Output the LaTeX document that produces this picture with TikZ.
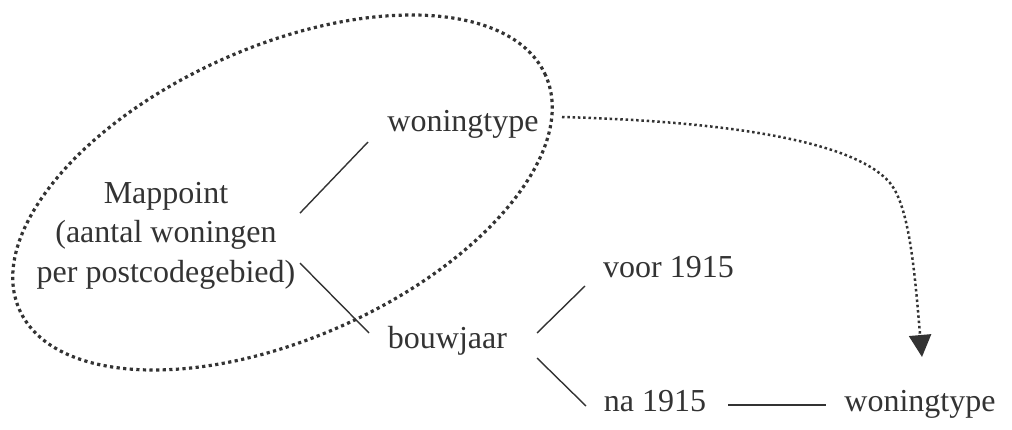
\documentclass[tikz,border=0pt]{standalone}
\usepackage{fontspec}
\setmainfont{Liberation Serif}
\usetikzlibrary{calc,arrows.meta}
\definecolor{ink}{HTML}{333333}
\tikzset{
  lbl/.style={inner sep=0pt, anchor=base, text=ink, font=\fontsize{32}{39.5}\selectfont},
  conn/.style={draw=ink, line width=1.4pt},
  dotring/.style={draw=ink, line width=3.2pt, dash pattern=on 3.2pt off 3.4pt},
  dotarrow/.style={draw=ink, line width=2.5pt, dash pattern=on 2.5pt off 2.8pt,
     -{Triangle[width=22pt,length=22pt]}}
}
\begin{document}
\begin{tikzpicture}[x=1pt,y=1pt]
\useasboundingbox (0,0) rectangle (1012,429);
% group ellipse
\draw[dotring, rotate around={24:(282.5,236.5)}] (282.5,236.5) ellipse [x radius=288, y radius=146];
% nodes
\node[lbl, anchor=north, align=center] (map) at (166,246.9)
  {Mappoint\\(aantal woningen\\per postcodegebied)};
\node[lbl] (wt1) at (463,297) {woningtype};
\node[lbl] (bouw) at (447.5,81) {bouwjaar};
\node[lbl] (voor) at (668.5,152) {voor 1915};
\node[lbl] (na) at (655,18) {na 1915};
\node[lbl] (wt2) at (920,18) {woningtype};
\coordinate (tip) at (922,72);
% connectors
\draw[conn] ($(map.north)+(134,-31)$) -- ($(wt1.base)+(-95,-10)$);
\draw[conn] ($(map.north)+(134,-81)$) -- ($(bouw.base)+(-78.5,15)$);
\draw[conn] ($(bouw.base)+(89.5,15)$) -- ($(voor.base)+(-83.5,-9)$);
\draw[conn] ($(bouw.base)+(89.5,-10)$) -- ($(na.base)+(-69,5)$);
\draw[conn] ($(na.base)+(73,6)$) -- ($(wt2.base)+(-94,6)$);
\draw[dotarrow] ($(wt1.base)+(99,15)$) .. controls (712,308) and (852,291) .. (890,246)
   .. controls (910,222) and (915,152) .. (tip);
\end{tikzpicture}
\end{document}
